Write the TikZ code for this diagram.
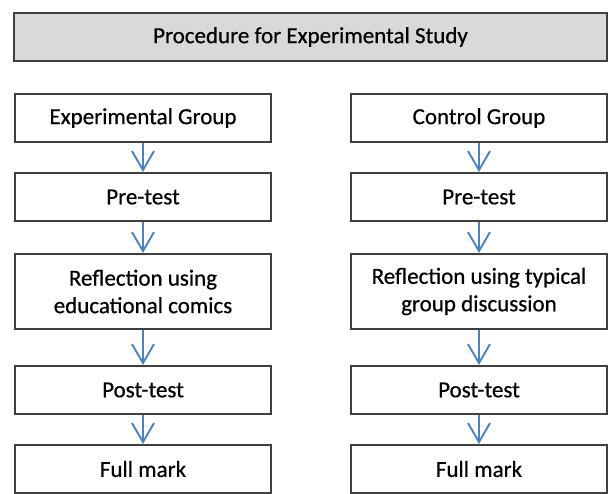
\documentclass[tikz,border=0pt]{standalone}
\usepackage{fontspec}
\setmainfont{Carlito}[FakeBold=0.6]
\usetikzlibrary{arrows.meta}
\definecolor{arrblue}{RGB}{79,129,189}
\definecolor{boxline}{RGB}{64,64,64}
\definecolor{titlefill}{RGB}{217,217,217}
\begin{document}
\begin{tikzpicture}[x=1pt,y=1pt,
  stepbox/.style={draw=boxline, line width=1.1pt, minimum width=256pt, minimum height=48pt, inner sep=0pt, align=center, font=\fontsize{23}{27.5}\selectfont, text=black},
  titlebox/.style={stepbox, fill=titlefill, minimum width=593pt},
  flow/.style={draw=arrblue, line width=1.9pt, -{Straight Barb[length=19pt,width=22pt,line width=1.9pt]}, shorten >=0.5pt}
]
\useasboundingbox (0,0) rectangle (608,-493);
\node[titlebox] (title) at (310.5,-37) {Procedure for Experimental Study};

\node[stepbox] (e1) at (143,-118) {Experimental Group};
\node[stepbox] (e2) at (143,-197) {Pre-test};
\node[stepbox, minimum height=75pt] (e3) at (143,-291.5) {Reflection using\\educational comics};
\node[stepbox] (e4) at (143,-390) {Post-test};
\node[stepbox] (e5) at (143,-469) {Full mark};

\node[stepbox] (c1) at (479,-118) {Control Group};
\node[stepbox] (c2) at (479,-197) {Pre-test};
\node[stepbox, minimum height=75pt] (c3) at (479,-291.5) {Reflection using typical\\group discussion};
\node[stepbox] (c4) at (479,-390) {Post-test};
\node[stepbox] (c5) at (479,-469) {Full mark};

\foreach \a/\b in {e1/e2,e2/e3,e3/e4,e4/e5,c1/c2,c2/c3,c3/c4,c4/c5}
  \draw[flow] (\a.south) -- (\b.north);
\end{tikzpicture}
\end{document}
